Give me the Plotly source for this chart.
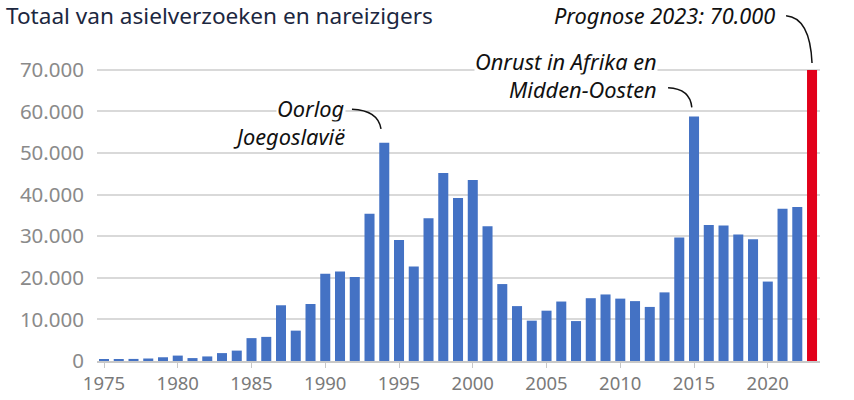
import plotly.graph_objects as go

years = list(range(1975, 2024))
values = [300, 400, 500, 600, 900, 1300, 700, 1100, 1900, 2500,
          5500, 5800, 13400, 7300, 13700, 21000, 21500, 20200, 35400, 52500,
          29100, 22700, 34300, 45200, 39200, 43500, 32400, 18500, 13200, 9700,
          12100, 14300, 9600, 15100, 16000, 15000, 14400, 13000, 16500, 29700,
          58800, 32700, 32600, 30400, 29300, 19100, 36600, 37000, 70000]
forecast_year = 2023
y_ticks = [0, 10000, 20000, 30000, 40000, 50000, 60000, 70000]
x_ticks = [1975, 1980, 1985, 1990, 1995, 2000, 2005, 2010, 2015, 2020]
title = "Totaal van asielverzoeken en nareizigers"
notes = [
    (1994, ["Oorlog", "Joegoslavië"]),
    (2015, ["Onrust in Afrika en", "Midden-Oosten"]),
    (2023, ["Prognose 2023: 70.000"]),
]

BLUE = "#4472C4"
RED = "#E2001A"
colors = [RED if y == forecast_year else BLUE for y in years]
val = dict(zip(years, values))

fig = go.Figure(go.Bar(x=years, y=values, marker_color=colors,
                       marker_line_width=0, hoverinfo="skip"))

# annotation placement (offsets in data units relative to the bar)
LINE_STEP = 6600
note_pos = {
    1994: dict(tx=-2.62, ty=60600, sx=-2.19, sy=60535, cx=-0.42, cy=60300, ex=-0.22, ey_off=3300),
    2015: dict(tx=-2.46, ty=72000, sx=-1.76, sy=65730, cx=-0.27, cy=65500, ex=-0.15, ey_off=2200),
    2023: dict(tx=-2.46, ty=83150, sx=-1.76, sy=83000, cx=-0.14, cy=82530, ex=0.0, ey_off=1650),
}
for yr, lines in notes:
    p = note_pos[yr]
    for i, line in enumerate(lines):
        fig.add_annotation(x=yr + p["tx"], y=p["ty"] - i * LINE_STEP, xref="x", yref="y",
                           text=line, showarrow=False, xanchor="right", yanchor="middle",
                           align="right",
                           font=dict(family="Noto Sans", size=21.8, color="#111",
                                     style="italic"),
                           bgcolor="white", borderpad=0)
    path = (f"M {yr + p['sx']},{p['sy']} Q {yr + p['cx']},{p['cy']} "
            f"{yr + p['ex']},{val[yr] + p['ey_off']}")
    fig.add_shape(type="path", path=path, xref="x", yref="y",
                  line=dict(color="#111", width=1.5))

fig.update_layout(
    width=854, height=400,
    margin=dict(l=97, r=34, t=5, b=33),
    paper_bgcolor="white", plot_bgcolor="white",
    separators=",.",
    bargap=0.32,
    showlegend=False,
    font=dict(family="Noto Sans"),
    title=dict(text=title, x=0.007, xanchor="left", y=1 - 16 / 400, yanchor="middle",
               xref="container", yref="container",
               font=dict(family="Noto Sans", size=22.6, color="#1c2740")),
)
fig.update_xaxes(range=[1974.525, 2023.54], tickvals=x_ticks, ticks="outside",
                 ticklen=5, tickcolor="#c8c8c8", showline=True, linecolor="#c8c8c8",
                 linewidth=1.5, showgrid=False, zeroline=False,
                 tickfont=dict(family="Noto Sans", size=18.5, color="#7a7a7a"))
fig.update_yaxes(range=[0, 85600], tickvals=y_ticks, tickformat=",d",
                 showgrid=True, gridcolor="#d9d9d9", gridwidth=1.5, zeroline=False,
                 ticks="", ticklabelstandoff=12,
                 tickfont=dict(family="Noto Sans", size=20.5, color="#8a8a8a"))

fig.write_html("out.html")
